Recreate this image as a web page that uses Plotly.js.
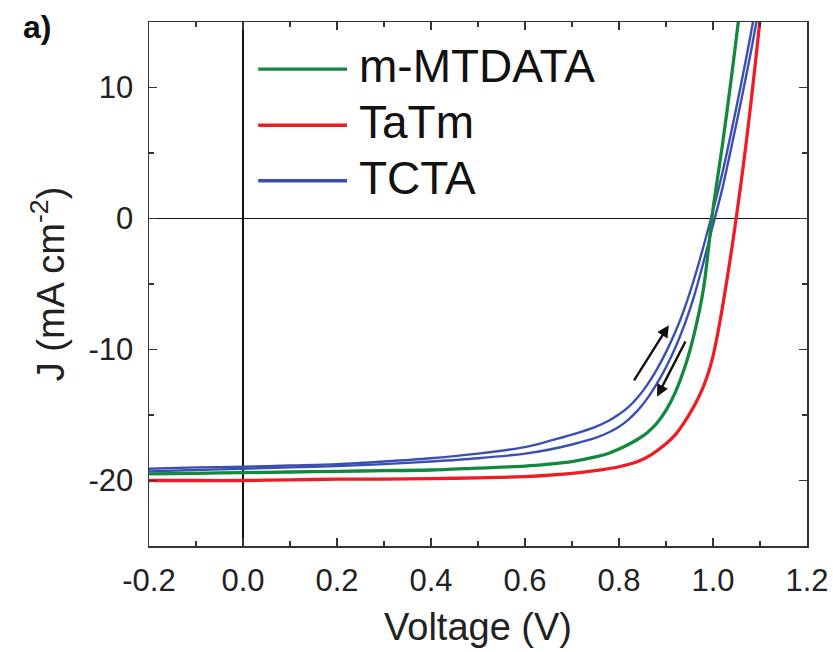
<!DOCTYPE html>
<html>
<head>
<meta charset="utf-8">
<script src="https://cdn.plot.ly/plotly-3.0.1.min.js"></script>
<style>html,body{margin:0;padding:0;background:#fff;}#chart{width:833px;height:652px;}</style>
</head>
<body>
<div id="chart"></div>
<script>
// Series names
const seriesNames = ["m-MTDATA", "TaTm", "TCTA"];

// TaTm (red)
const vRed = [-0.2,-0.1,0,0.1,0.2,0.3,0.4,0.5,0.6,0.65,0.7,0.75,0.8,0.84,0.87,0.9,0.92,0.94,0.96,0.97,0.98,0.99,1.0,1.01,1.02,1.03,1.04,1.05,1.06,1.07,1.08,1.09,1.1,1.11,1.12];
const jRed = [-20.0,-20.0,-20.0,-19.95,-19.9,-19.9,-19.85,-19.8,-19.7,-19.6,-19.45,-19.25,-18.95,-18.55,-18.0,-17.2,-16.5,-15.5,-14.3,-13.6,-12.8,-11.8,-10.5,-8.8,-6.8,-4.6,-2.3,0.2,2.8,5.6,8.6,11.8,15.2,18.8,22.5];

// m-MTDATA (green)
const vGreen = [-0.2,-0.1,0,0.1,0.2,0.3,0.4,0.5,0.6,0.65,0.7,0.75,0.78,0.8,0.82,0.84,0.86,0.88,0.9,0.92,0.94,0.96,0.98,1.0,1.02,1.04,1.06,1.08];
const jGreen = [-19.5,-19.45,-19.4,-19.35,-19.3,-19.25,-19.2,-19.05,-18.9,-18.75,-18.55,-18.2,-17.9,-17.6,-17.25,-16.85,-16.35,-15.65,-14.65,-13.25,-11.35,-8.8,-5.3,0.7,5.6,11.0,16.8,22.8];

// TCTA (blue), reverse and forward scans
const vBlue = [-0.2,-0.1,0,0.1,0.2,0.3,0.4,0.5,0.6,0.65,0.7,0.75,0.78,0.8,0.82,0.84,0.86,0.88,0.9,0.92,0.94,0.96,0.98,1.0,1.02,1.04,1.06,1.08,1.1,1.12];
const jBlueRev = [-19.1,-19.0,-18.95,-18.85,-18.75,-18.55,-18.3,-17.95,-17.45,-17.0,-16.5,-15.9,-15.4,-14.95,-14.4,-13.65,-12.7,-11.55,-10.2,-8.65,-6.8,-4.6,-2.1,0.6,3.5,6.8,10.3,14.0,18.0,22.0];
const jBlueFwd = [-19.3,-19.2,-19.1,-19.0,-18.9,-18.75,-18.55,-18.3,-17.95,-17.65,-17.25,-16.75,-16.3,-15.9,-15.35,-14.65,-13.75,-12.65,-11.35,-9.85,-8.05,-5.9,-3.3,-0.5,2.3,5.6,9.0,12.6,16.5,20.5];

// Axis ticks
const xTicks = [-0.2,0.0,0.2,0.4,0.6,0.8,1.0,1.2];
const xTickText = ["-0.2","0.0","0.2","0.4","0.6","0.8","1.0","1.2"];
const yTicks = [-20,-10,0,10];
const yTickText = ["-20","-10","0","10"];

const colors = {"m-MTDATA":"#13893d","TaTm":"#ee1d24","TCTA":"#3b4fb3"};
const font = "Liberation Sans, Arial, sans-serif";

const traces = [
  {x:vBlue, y:jBlueRev, mode:"lines", line:{color:colors["TCTA"], width:2.4, shape:"spline", smoothing:0.8}, name:"TCTA"},
  {x:vBlue, y:jBlueFwd, mode:"lines", line:{color:colors["TCTA"], width:2.4, shape:"spline", smoothing:0.8}, name:"TCTA"},
  {x:vGreen, y:jGreen, mode:"lines", line:{color:colors["m-MTDATA"], width:3.3, shape:"spline", smoothing:0.8}, name:"m-MTDATA"},
  {x:vRed, y:jRed, mode:"lines", line:{color:colors["TaTm"], width:3.3, shape:"spline", smoothing:0.8}, name:"TaTm"}
];

// custom legend geometry (paper coords)
const legY = [0.910, 0.803, 0.697];
const shapes = [];
const annotations = [];
seriesNames.forEach((n,i)=>{
  shapes.push({type:"line", xref:"paper", yref:"paper", x0:0.166, x1:0.301, y0:legY[i], y1:legY[i], line:{color:colors[n], width:3.4}});
  annotations.push({xref:"paper", yref:"paper", x:0.316, y:legY[i]+0.006, xanchor:"left", yanchor:"middle", text:n, showarrow:false, font:{family:font, size:46, color:"#111"}});
});
annotations.push({xref:"paper", yref:"paper", x:-0.17, y:0.99, xanchor:"center", yanchor:"middle", text:"<b>a)</b>", showarrow:false, font:{family:font, size:32, color:"#111"}});
// scan direction arrows
annotations.push({x:0.906, y:-8.14, ax:0.830, ay:-12.47, xref:"x", yref:"y", axref:"x", ayref:"y", text:"", showarrow:true, arrowhead:2, arrowsize:1, arrowwidth:2.4, arrowcolor:"#111"});
annotations.push({x:0.881, y:-13.6, ax:0.943, ay:-9.27, xref:"x", yref:"y", axref:"x", ayref:"y", text:"", showarrow:true, arrowhead:2, arrowsize:1, arrowwidth:2.4, arrowcolor:"#111"});

const axisCommon = {
  showgrid:false, showline:true, linecolor:"#333", linewidth:1.5, mirror:"ticks",
  ticks:"inside", ticklen:8, tickwidth:1.5, tickcolor:"#333",
  zeroline:true, zerolinecolor:"#111", zerolinewidth:1.5,
  tickfont:{family:font, size:31, color:"#222"}
};

const layout = {
  width:833, height:652,
  margin:{l:149, r:26, t:22, b:106},
  paper_bgcolor:"#fff", plot_bgcolor:"#fff",
  showlegend:false,
  xaxis:Object.assign({}, axisCommon, {
    range:[-0.2,1.2], tickvals:xTicks, ticktext:xTickText,
    minor:{dtick:0.1, tick0:0, ticks:"inside", ticklen:5, tickwidth:1.2, tickcolor:"#333"},
    ticklabelstandoff:6,
    title:{text:"Voltage (V)", font:{family:font, size:38, color:"#222"}, standoff:16}
  }),
  yaxis:Object.assign({}, axisCommon, {
    range:[-25,15], tickvals:yTicks, ticktext:yTickText,
    minor:{dtick:5, tick0:0, ticks:"inside", ticklen:5, tickwidth:1.2, tickcolor:"#333"},
    ticklabelstandoff:8,
    title:{text:"J (mA cm<sup>-2</sup>)", font:{family:font, size:38, color:"#222"}, standoff:12}
  }),
  shapes:shapes,
  annotations:annotations
};

Plotly.newPlot("chart", traces, layout, {displayModeBar:false, staticPlot:true});
</script>
</body>
</html>
